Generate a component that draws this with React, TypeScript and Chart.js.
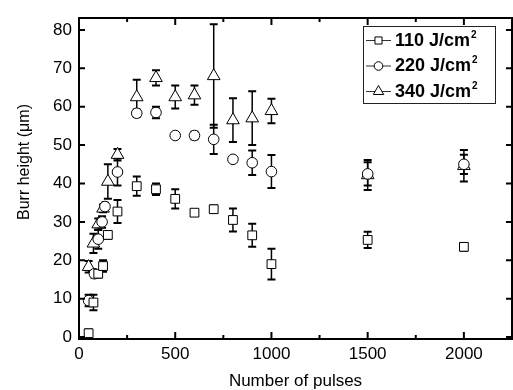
import React, { useEffect, useRef } from "react";
import { Chart, registerables } from "chart.js";

Chart.register(...registerables);

// ---- data ----
const pulses110 = [50, 75, 100, 125, 150, 200, 300, 400, 500, 600, 700, 800, 900, 1000, 1500, 2000];
const height110 = [1, 9, 16.5, 18.5, 26.6, 32.7, 39.3, 38.5, 36, 32.4, 33.3, 30.5, 26.5, 19, 25.3, 23.5];
const err110 = [1, 2, 1, 1.5, 1, 3, 2.5, 1.5, 2.5, 0.7, 1, 3, 3, 4, 2.1, 1];

const pulses220 = [50, 80, 100, 120, 135, 200, 300, 400, 500, 600, 700, 800, 900, 1000, 1500, 2000];
const height220 = [9.5, 16.5, 25.5, 30, 34, 43, 58.3, 58.5, 52.5, 52.5, 51.5, 46.3, 45.4, 43.1, 42.5, 45];
const err220 = [1.5, 1, 2.5, 1.5, 1, 3.5, 1, 1.5, 0.5, 1, 3.8, 0.5, 3.2, 4.3, 3, 2.5];

const pulses340 = [50, 75, 100, 125, 150, 200, 300, 400, 500, 600, 700, 800, 900, 1000, 1500, 2000];
const height340 = [18.3, 24.4, 29.4, 33.5, 40.5, 47.5, 62.5, 67.5, 62.5, 63, 68, 56.5, 57, 58.9, 42.2, 44.6];
const err340 = [1.5, 2.5, 1.5, 1, 4.5, 1.5, 4.5, 2, 3, 2.5, 13.5, 5.7, 7, 3.2, 3.9, 4.1];

const seriesLabels = ["110 J/cm", "220 J/cm", "340 J/cm"];
const seriesSup = ["2", "2", "2"];
const xMajorTicks = [0, 500, 1000, 1500, 2000];
const xTickLabels = ["0", "500", "1000", "1500", "2000"];
const xMinorTicks = [250, 750, 1250, 1750];
const xTitle = "Number of pulses";
const yTitle = "Burr height (\u03bcm)";

const FONT = "'Liberation Sans', Arial, Helvetica, sans-serif";

type Shape = "rect" | "circle" | "triangle";

function drawMarker(ctx: CanvasRenderingContext2D, shape: Shape, x: number, y: number, r: number) {
  ctx.beginPath();
  if (shape === "rect") {
    const s = Math.SQRT1_2 * r;
    ctx.rect(x - s, y - s, 2 * s, 2 * s);
  } else if (shape === "circle") {
    ctx.arc(x, y, r, 0, Math.PI * 2);
  } else {
    const w = Math.sin(Math.PI / 3) * r;
    ctx.moveTo(x, y - r);
    ctx.lineTo(x + w, y + r / 2);
    ctx.lineTo(x - w, y + r / 2);
    ctx.closePath();
  }
  ctx.fillStyle = "#fff";
  ctx.fill();
  ctx.stroke();
}

export default function App() {
  const ref = useRef<HTMLCanvasElement>(null);

  useEffect(() => {
    document.body.style.margin = "0";
    const canvas = ref.current!;
    const series = [
      { x: pulses110, y: height110, e: err110, shape: "rect" as Shape, r: 6.2 },
      { x: pulses220, y: height220, e: err220, shape: "circle" as Shape, r: 5.3 },
      { x: pulses340, y: height340, e: err340, shape: "triangle" as Shape, r: 7.3 },
    ];

    const errorBars = {
      id: "errorBars",
      beforeDatasetsDraw(chart: any) {
        const { ctx, scales } = chart;
        const xs = scales.x;
        const ys = scales.y;
        ctx.save();
        ctx.strokeStyle = "#000";
        series.forEach((s) => {
          s.x.forEach((xv, i) => {
            const px = xs.getPixelForValue(xv);
            const top = ys.getPixelForValue(s.y[i] + s.e[i]);
            const bot = ys.getPixelForValue(s.y[i] - s.e[i]);
            ctx.lineWidth = 1.5;
            ctx.beginPath();
            ctx.moveTo(px, top);
            ctx.lineTo(px, bot);
            ctx.stroke();
            ctx.lineWidth = 2;
            ctx.beginPath();
            ctx.moveTo(px - 4, top);
            ctx.lineTo(px + 4, top);
            ctx.moveTo(px - 4, bot);
            ctx.lineTo(px + 4, bot);
            ctx.stroke();
          });
        });
        ctx.restore();
      },
    };

    const frame = {
      id: "frame",
      afterDraw(chart: any) {
        const { ctx, chartArea: a, scales } = chart;
        const xs = scales.x;
        const ys = scales.y;
        ctx.save();
        ctx.strokeStyle = "#000";
        ctx.lineWidth = 2;
        ctx.strokeRect(a.left, a.top, a.right - a.left, a.bottom - a.top);

        ctx.beginPath();
        ys.ticks.forEach((t: any) => {
          const py = ys.getPixelForValue(t.value);
          ctx.moveTo(a.left, py);
          ctx.lineTo(a.left + 6, py);
          ctx.moveTo(a.right, py);
          ctx.lineTo(a.right - 6, py);
        });
        ctx.stroke();

        ctx.beginPath();
        xMajorTicks.forEach((v) => {
          const px = xs.getPixelForValue(v);
          ctx.moveTo(px, a.bottom);
          ctx.lineTo(px, a.bottom - 7);
          ctx.moveTo(px, a.top);
          ctx.lineTo(px, a.top + 7);
        });
        xMinorTicks.forEach((v) => {
          const px = xs.getPixelForValue(v);
          ctx.moveTo(px, a.bottom);
          ctx.lineTo(px, a.bottom - 4);
          ctx.moveTo(px, a.top);
          ctx.lineTo(px, a.top + 4);
        });
        ctx.stroke();

        // x tick labels
        ctx.fillStyle = "#000";
        ctx.font = `17px ${FONT}`;
        ctx.textAlign = "center";
        ctx.textBaseline = "alphabetic";
        xMajorTicks.forEach((v, i) => {
          ctx.fillText(xTickLabels[i], xs.getPixelForValue(v), 359);
        });

        // axis titles
        ctx.textBaseline = "middle";
        ctx.fillText(xTitle, (a.left + a.right) / 2, 381);
        ctx.save();
        ctx.translate(25, 162);
        ctx.rotate(-Math.PI / 2);
        ctx.font = `16px ${FONT}`;
        ctx.fillText(yTitle, 0, 0);
        ctx.restore();

        // legend
        ctx.lineWidth = 1;
        ctx.strokeStyle = "#222";
        ctx.strokeRect(363.5, 26.5, 132, 77);
        const rows = [40, 65.5, 91];
        const legR = [5, 4.3, 6];
        series.forEach((s, i) => {
          const y = rows[i];
          ctx.strokeStyle = "#333";
          ctx.lineWidth = 1;
          ctx.beginPath();
          ctx.moveTo(366, y + 0.5);
          ctx.lineTo(391, y + 0.5);
          ctx.stroke();
          ctx.strokeStyle = "#000";
          drawMarker(ctx, s.shape, 378.5, y + 0.5, legR[i]);
          ctx.fillStyle = "#000";
          ctx.textAlign = "left";
          ctx.textBaseline = "middle";
          ctx.font = `bold 18px ${FONT}`;
          ctx.fillText(seriesLabels[i], 395, y + 1);
          const w = ctx.measureText(seriesLabels[i]).width;
          ctx.font = `bold 10px ${FONT}`;
          ctx.fillText(seriesSup[i], 395 + w + 1, y - 5);
        });
        ctx.restore();
      },
    };

    const chart = new Chart(canvas, {
      type: "scatter",
      data: {
        datasets: series.map((s, i) => ({
          label: seriesLabels[i] + seriesSup[i],
          data: s.x.map((xv, j) => ({ x: xv, y: s.y[j] })),
          pointStyle: s.shape,
          pointRadius: s.r,
          pointHoverRadius: s.r,
          pointBackgroundColor: "#fff",
          pointBorderColor: "#000",
          pointBorderWidth: 1,
          showLine: false,
        })),
      },
      options: {
        responsive: false,
        animation: false,
        events: [],
        layout: { autoPadding: false, padding: { top: 18, right: 1, left: 0, bottom: 0 } },
        plugins: {
          legend: { display: false },
          tooltip: { enabled: false },
        },
        scales: {
          x: {
            type: "linear",
            min: 0,
            max: 2250,
            grid: { display: false, drawTicks: false },
            border: { display: false },
            ticks: { display: false },
            afterFit: (s: any) => {
              s.height = 51;
            },
          },
          y: {
            type: "linear",
            min: -0.5,
            max: 83.1,
            grid: { display: false, drawTicks: false },
            border: { display: false },
            ticks: {
              stepSize: 10,
              includeBounds: false,
              padding: 7,
              color: "#000",
              font: { family: FONT, size: 17 },
              callback: (v: any) => String(v),
            },
            afterFit: (s: any) => {
              s.width = 79;
            },
          },
        },
      },
      plugins: [errorBars, frame],
    });
    return () => chart.destroy();
  }, []);

  return (
    <div style={{ width: 513, height: 390 }}>
      <canvas ref={ref} width={513} height={390} style={{ display: "block" }} />
    </div>
  );
}
